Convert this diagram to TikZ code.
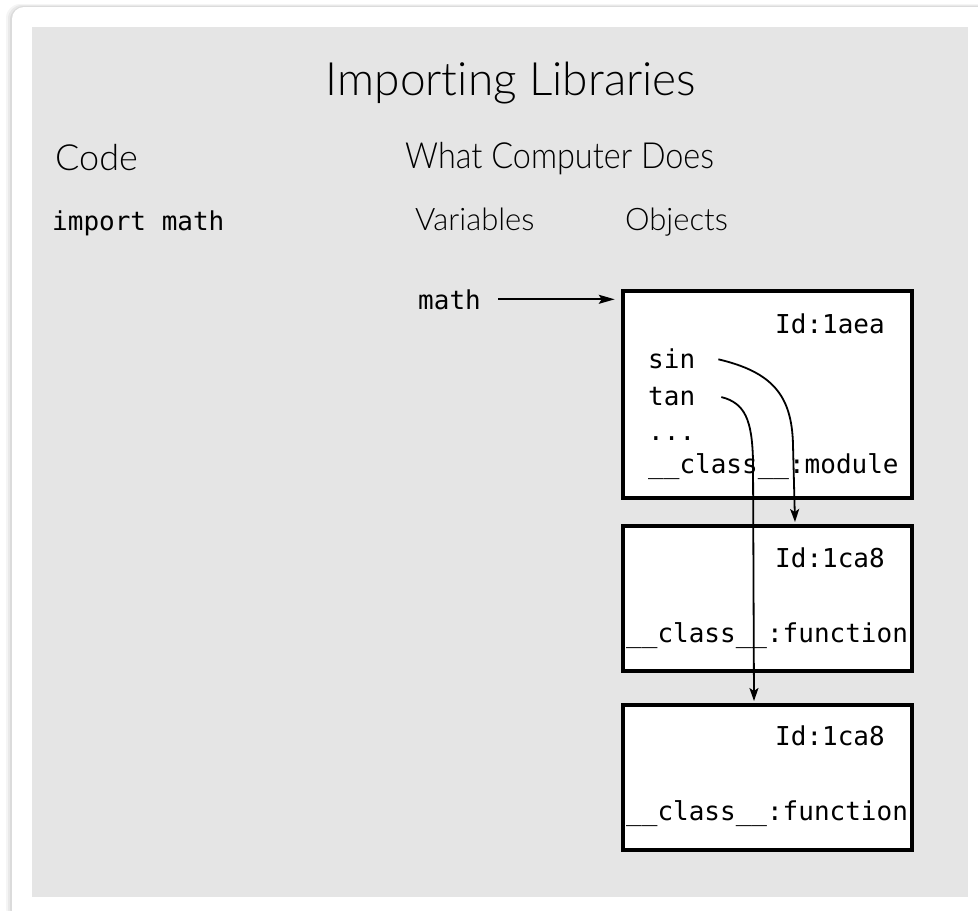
\documentclass[tikz,border=0pt]{standalone}
\usepackage{fontspec}
\setmainfont{Lato Light}[Ligatures={NoCommon}]
\newfontfamily\narrowfont{Lato Light}[Ligatures={NoCommon},FakeStretch=0.9]
\newfontfamily\codefont{DejaVu Sans Mono}
\usetikzlibrary{arrows.meta}
\definecolor{panel}{HTML}{E5E5E5}
\tikzset{
  objbox/.style={draw=black, line width=4.5pt, fill=white, inner sep=0pt, minimum width=289pt},
  code/.style={font=\codefont\fontsize{26}{30}\selectfont, inner sep=0pt},
  head/.style={inner sep=0pt, anchor=base west},
  sub/.style={font=\fontsize{31}{34}\selectfont, inner sep=0pt, anchor=base west},
  arr/.style={line width=1.8pt, -{Stealth[length=16pt,width=9pt,inset=3pt]}},
  curv/.style={line width=1.8pt, -{Stealth[length=13pt,width=9pt,inset=3pt]}},
}
\begin{document}
\begin{tikzpicture}[x=1pt,y=-1pt]
\useasboundingbox (0,0) rectangle (978,911);
% card shadow and card
\foreach \d/\o in {6/0.04,4/0.05,2/0.06}{
  \fill[black,opacity=\o,rounded corners=14pt] (12-\d,7-\d/2) rectangle (990,922);
}
\fill[white,rounded corners=12pt] (12,7) rectangle (990,922);
\fill[panel] (32,27) rectangle (968,897);
% headings
\node[font=\fontsize{46}{50}\selectfont, inner sep=0pt, anchor=base] (title) at (511,95) {Importing Libraries};
\node[head, font=\fontsize{36}{40}\selectfont] (code) at (55,170) {Code};
\node[head, font=\narrowfont\fontsize{36}{40}\selectfont] (what) at (405,168) {What Computer Does};
\node[code, anchor=base west] (imp) at (52,230) {import math};
\node[sub] (vars) at (415,230) {Variables};
\node[sub] (objs) at (625,230) {Objects};
% variable
\node[code, anchor=base west] (mathv) at (418,309) {math};
% objects
\node[objbox, minimum height=207pt] (box1) at (767.5,394.5) {};
\node[objbox, minimum height=145pt] (box2) at (767.5,598.5) {};
\node[objbox, minimum height=145pt] (box3) at (767.5,777.5) {};
% box1 texts
\node[code, anchor=base east] (id1) at (885,333) {Id:1aea};
\node[code, anchor=base west] (sin) at (648,368) {sin};
\node[code, anchor=base west] (tan) at (648,405) {tan};
\node[code, anchor=base west] (dots) at (648,440) {...};
\node[code, anchor=base west] (cls1) at (648,473) {\_\_class\_\_:module};
% box2 texts
\node[code, anchor=base east] (id2) at (885,567) {Id:1ca8};
\node[code, anchor=base west] (cls2) at (626,642) {\_\_class\_\_:function};
% box3 texts
\node[code, anchor=base east] (id3) at (885,745) {Id:1ca8};
\node[code, anchor=base west] (cls3) at (626,820) {\_\_class\_\_:function};
% connectors
\coordinate (sinend) at (795,522);
\coordinate (tanend) at (754,701);
\draw[arr] ([xshift=17pt]mathv.east) -- ([xshift=-6pt]mathv.east -| box1.west);
\draw[curv] ([xshift=23pt,yshift=-1pt]sin.east) .. controls (772,372) and (792,395) .. (793,445) -- (sinend);
\draw[curv] ([xshift=26pt,yshift=-1pt]tan.east) .. controls (745,403) and (752,420) .. (753,460) -- (tanend);
\end{tikzpicture}
\end{document}
